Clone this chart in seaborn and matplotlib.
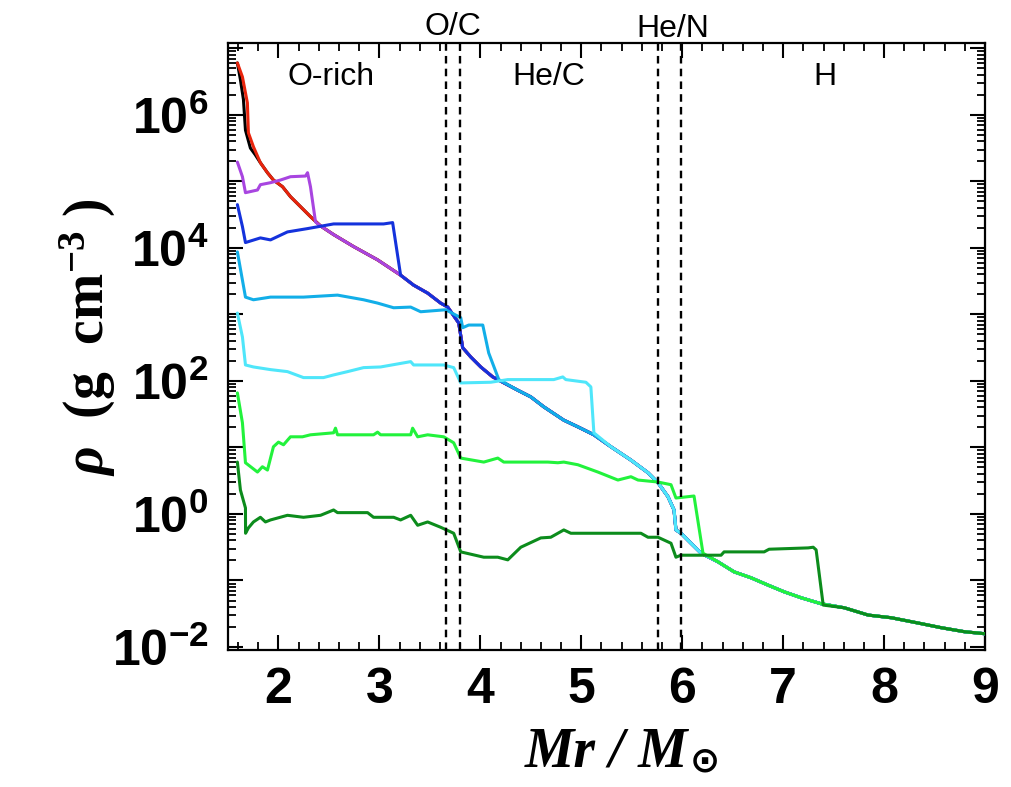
import numpy as np
import pandas as pd
import matplotlib
matplotlib.use("Agg")
import matplotlib.pyplot as plt
import matplotlib.ticker as mticker
import seaborn as sns

# ---------------- data (Mr in Msun, log10 rho in g cm^-3) ----------------
envelope_mr = [1.593, 1.643, 1.692, 1.702, 1.752, 1.821, 1.891, 1.950, 2.040, 2.119,
               2.218, 2.317, 2.417, 2.546, 2.744, 2.982, 3.210, 3.339, 3.478, 3.607,
               3.677, 3.786, 3.825, 3.905, 4.004, 4.123, 4.173, 4.371, 4.500, 4.629,
               4.827, 4.966, 5.125, 5.294, 5.492, 5.661, 5.760, 5.859, 5.919, 5.938,
               5.988, 6.087, 6.187, 6.355, 6.514, 6.683, 6.851, 7.010, 7.179, 7.377,
               7.605, 7.843, 8.071, 8.339, 8.567, 8.796, 8.994]
envelope_logrho = [6.78, 6.57, 6.18, 5.73, 5.52, 5.28, 5.13, 5.02, 4.92, 4.77,
                   4.62, 4.47, 4.33, 4.20, 4.02, 3.82, 3.59, 3.44, 3.32, 3.17,
                   3.11, 2.87, 2.50, 2.36, 2.21, 2.06, 2.02, 1.86, 1.76, 1.61,
                   1.41, 1.31, 1.19, 1.01, 0.81, 0.62, 0.47, 0.26, 0.06, -0.24,
                   -0.29, -0.44, -0.59, -0.72, -0.87, -0.96, -1.07, -1.17, -1.26, -1.35,
                   -1.41, -1.52, -1.56, -1.64, -1.71, -1.77, -1.80]

black_mr = [1.593, 1.623, 1.653, 1.673, 1.722, 1.770]
black_logrho = [6.78, 6.53, 6.23, 5.77, 5.50, 5.40]

red_mr = [1.593]
red_logrho = [6.78]

purple_mr = [1.593, 1.643, 1.673, 1.792, 1.821, 1.921, 2.020, 2.119, 2.268, 2.288, 2.317, 2.367]
purple_logrho = [5.29, 5.07, 4.83, 4.87, 4.95, 4.98, 5.02, 5.07, 5.08, 5.13, 4.92, 4.39]

blue_mr = [1.593, 1.643, 1.673, 1.821, 1.921, 2.089, 2.288, 2.546, 3.042, 3.131, 3.210]
blue_logrho = [4.65, 4.32, 4.08, 4.15, 4.12, 4.24, 4.29, 4.36, 4.36, 4.38, 3.59]

sky_mr = [1.593, 1.673, 1.752, 1.921, 2.248, 2.585, 2.843, 2.982, 3.141, 3.310,
          3.409, 3.657, 3.806, 3.825, 3.885, 4.024, 4.083, 4.183]
sky_logrho = [3.94, 3.26, 3.22, 3.26, 3.26, 3.29, 3.22, 3.17, 3.10, 3.11,
              3.04, 3.07, 2.95, 2.80, 2.84, 2.84, 2.42, 2.02]

cyan_mr = [1.593, 1.643, 1.673, 1.752, 1.921, 2.089, 2.248, 2.446, 2.546, 2.685,
           2.843, 3.012, 3.310, 3.339, 3.637, 3.736, 3.806, 4.103, 4.272, 4.728,
           4.817, 4.847, 5.046, 5.095, 5.125]
cyan_logrho = [3.02, 2.66, 2.24, 2.21, 2.17, 2.14, 2.05, 2.05, 2.09, 2.14,
               2.20, 2.21, 2.29, 2.24, 2.24, 2.20, 1.97, 1.98, 2.02, 2.02,
               2.06, 2.02, 1.98, 1.91, 1.22]

green_mr = [1.593, 1.643, 1.673, 1.792, 1.841, 1.891, 1.950, 2.000, 2.050, 2.119,
            2.238, 2.317, 2.546, 2.565, 2.585, 2.942, 2.982, 3.012, 3.310, 3.329,
            3.379, 3.478, 3.637, 3.736, 3.806, 4.034, 4.173, 4.232, 4.669, 4.768,
            4.827, 4.966, 5.165, 5.363, 5.492, 5.562, 5.760, 5.889, 5.938, 6.117, 6.206]
green_logrho = [1.82, 1.37, 0.77, 0.63, 0.71, 0.66, 1.01, 1.08, 1.04, 1.16,
                1.16, 1.19, 1.22, 1.29, 1.19, 1.19, 1.23, 1.19, 1.19, 1.29,
                1.16, 1.19, 1.16, 1.07, 0.84, 0.78, 0.84, 0.78, 0.78, 0.77,
                0.78, 0.74, 0.63, 0.51, 0.56, 0.51, 0.48, 0.44, 0.24, 0.27, -0.59]

dgreen_mr = [1.593, 1.623, 1.673, 1.674, 1.702, 1.752, 1.821, 1.871, 1.921, 2.089,
             2.248, 2.417, 2.546, 2.585, 2.883, 2.942, 3.141, 3.210, 3.310, 3.379,
             3.478, 3.607, 3.736, 3.806, 4.034, 4.173, 4.272, 4.401, 4.599, 4.698,
             4.827, 4.897, 5.591, 5.661, 5.760, 5.889, 5.938, 5.988, 6.385, 6.415,
             6.812, 6.861, 7.248, 7.298, 7.327, 7.397]
dgreen_logrho = [0.78, 0.36, 0.09, -0.29, -0.21, -0.12, -0.05, -0.12, -0.09, -0.02,
                 -0.05, -0.02, 0.06, 0.02, 0.02, -0.05, -0.05, -0.09, -0.02, -0.17,
                 -0.12, -0.20, -0.29, -0.57, -0.65, -0.65, -0.69, -0.50, -0.36, -0.35,
                 -0.24, -0.29, -0.29, -0.35, -0.35, -0.44, -0.65, -0.62, -0.62, -0.57,
                 -0.57, -0.53, -0.51, -0.50, -0.54, -1.37]

series_names = ["black", "red", "purple", "blue", "sky", "cyan", "green", "dgreen"]
series_heads = [(black_mr, black_logrho), (red_mr, red_logrho), (purple_mr, purple_logrho),
                (blue_mr, blue_logrho), (sky_mr, sky_logrho), (cyan_mr, cyan_logrho),
                (green_mr, green_logrho), (dgreen_mr, dgreen_logrho)]
series_colors = ["#000000", "#e8240c", "#a845e0", "#1432dc", "#12aee8", "#4fe6fa",
                 "#22f23c", "#0c8c1c"]

boundaries = [3.66, 3.80, 5.76, 5.99]
zone_labels = ["O-rich", "O/C", "He/C", "He/N", "H"]
x_ticks = [2, 3, 4, 5, 6, 7, 8, 9]

# ---------------- build long-form table ----------------
rows = []
for name, (hm, hl) in zip(series_names, series_heads):
    mr = list(hm) + [m for m in envelope_mr if m > hm[-1]]
    lr = list(hl) + [l for m, l in zip(envelope_mr, envelope_logrho) if m > hm[-1]]
    for k, (m, l) in enumerate(zip(mr, lr)):
        rows.append({"series": name, "order": k, "Mr": m, "rho": 10.0 ** l})
df = pd.DataFrame(rows)

# ---------------- style ----------------
sns.set_style("ticks")
plt.rcParams["font.family"] = ["Liberation Sans", "DejaVu Sans"]
plt.rcParams["text.color"] = "black"
plt.rcParams["axes.labelcolor"] = "black"
plt.rcParams["xtick.color"] = "black"
plt.rcParams["ytick.color"] = "black"
plt.rcParams["mathtext.fontset"] = "custom"
plt.rcParams["mathtext.rm"] = "Liberation Sans"
plt.rcParams["mathtext.bf"] = "Liberation Sans:bold"
plt.rcParams["mathtext.it"] = "Liberation Serif:italic:bold"
plt.rcParams["mathtext.sf"] = "Liberation Serif:bold"

fig = plt.figure(figsize=(10.12, 7.87), dpi=100)
ax = fig.add_axes([228 / 1012, 137 / 787, 757 / 1012, 607 / 787])

for z, (name, col) in enumerate(zip(series_names, series_colors)):
    sub = df[df["series"] == name]
    sns.lineplot(data=sub, x="Mr", y="rho", ax=ax, color=col, lw=2.2,
                 estimator=None, sort=False, legend=False, zorder=2 + z)

for b in boundaries:
    ax.axvline(b, color="black", lw=1.7, ls=(0, (3.2, 2.2)), zorder=20)

ax.set_yscale("log")
ax.set_xlim(1.5, 9.0)
ax.set_ylim(10 ** -2.045, 10 ** 7.08)

ax.xaxis.set_major_locator(mticker.FixedLocator(x_ticks))
ax.xaxis.set_minor_locator(mticker.MultipleLocator(0.2))
ax.xaxis.set_major_formatter(mticker.FuncFormatter(lambda v, p: f"{int(round(v))}"))

ax.yaxis.set_major_locator(mticker.FixedLocator([10.0 ** e for e in range(-2, 8)]))
ax.yaxis.set_minor_locator(mticker.LogLocator(base=10, subs=np.arange(2, 10), numticks=30))


def yfmt(v, p):
    e = int(round(np.log10(v)))
    if e % 2 != 0 or e > 6:
        return ""
    return r"$\mathbf{10^{%d}}$" % e


ax.yaxis.set_major_formatter(mticker.FuncFormatter(yfmt))
ax.yaxis.set_minor_formatter(mticker.NullFormatter())

ax.tick_params(which="both", direction="in", top=True, right=True, color="black")
ax.tick_params(which="major", length=11, width=1.5)
ax.tick_params(which="minor", length=5.5, width=1.3)
ax.tick_params(axis="x", which="major", pad=12, labelsize=36)
ax.tick_params(axis="y", which="major", pad=14, labelsize=36)
for lab in ax.get_xticklabels():
    lab.set_fontweight("bold")
for s in ax.spines.values():
    s.set_linewidth(1.6)
    s.set_color("black")

ax.set_xlabel(r"Mr / M", fontfamily="Liberation Serif", fontstyle="italic",
              fontweight="bold", fontsize=40, labelpad=10)
ax.annotate("\u2299", xy=(1.0, 0.0), xycoords=ax.xaxis.label, xytext=(1, 0),
            textcoords="offset points", ha="left", va="bottom", fontsize=26,
            fontfamily="DejaVu Sans", fontweight="bold", color="black")
ax.set_ylabel(r"$\it{\rho}$  (g  cm$^{\mathsf{-3}}$ )", fontfamily="Liberation Serif",
              fontweight="bold", fontsize=40, va="center", ha="center")
ax.yaxis.set_label_coords(-0.185, 0.515)

# zone labels
ax.text(2.52, 0.931, zone_labels[0], transform=ax.get_xaxis_transform(), ha="center",
        va="baseline", fontsize=23)
ax.text(3.73, 1.013, zone_labels[1], transform=ax.get_xaxis_transform(), ha="center",
        va="baseline", fontsize=23)
ax.text(4.68, 0.931, zone_labels[2], transform=ax.get_xaxis_transform(), ha="center",
        va="baseline", fontsize=23)
ax.text(5.91, 1.010, zone_labels[3], transform=ax.get_xaxis_transform(), ha="center",
        va="baseline", fontsize=23)
ax.text(7.41, 0.931, zone_labels[4], transform=ax.get_xaxis_transform(), ha="center",
        va="baseline", fontsize=23)

fig.savefig("out.png", dpi=100, facecolor="white")
